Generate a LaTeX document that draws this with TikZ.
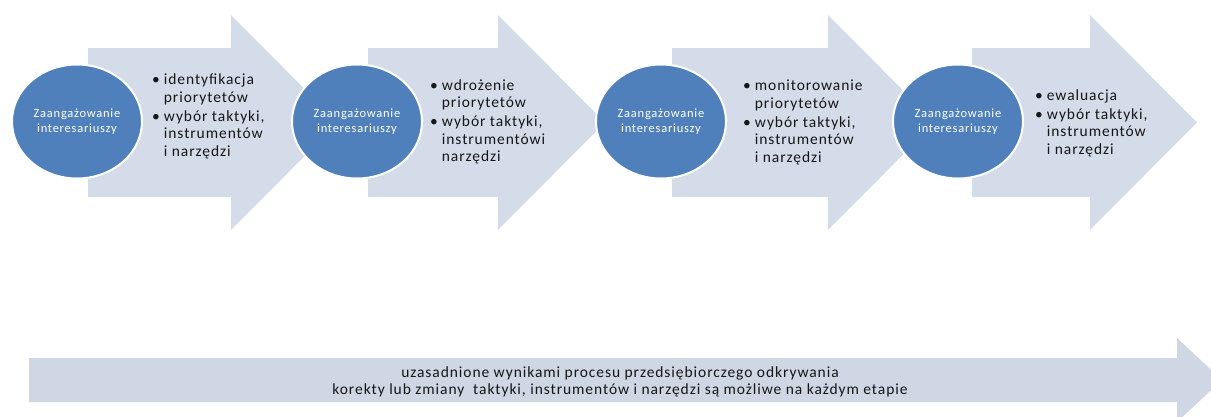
\documentclass[tikz,border=0pt]{standalone}
\usepackage{fontspec}
\usepackage{xcolor}
\usepackage{tikz}
\usetikzlibrary{shapes.geometric}
\newfontfamily\kalibri[LetterSpace=6]{Carlito}
\definecolor{inkD}{HTML}{161616}
\definecolor{cStake}{HTML}{4F80BB}
\definecolor{lArrow}{HTML}{D5DCE9}
\definecolor{lBase}{HTML}{CFD6E4}

\tikzset{
  stake/.style={ellipse, fill=cStake, draw=white, line width=2pt,
        minimum width=130pt, minimum height=114pt, inner sep=0pt,
        align=center, text=white,
        font=\kalibri\fontsize{12.5}{15}\selectfont},
  points/.style={anchor=west, inner sep=0pt, text=inkD,
        font=\kalibri\fontsize{15.5}{17.5}\selectfont}
}
\newcommand{\pkt}{\textbullet\hspace{4pt}}

\begin{document}
\begin{tikzpicture}[x=1pt,y=-1pt]
  \clip (0,0) rectangle (1211,416);
  \fill[white] (0,0) rectangle (1211,416);

  % stage arrows
  \foreach \bx/\hx in {88/231, 368/498, 672/828, 972/1090}
    \fill[lArrow] (\bx,48) -- (\hx,48) -- (\hx,15) -- (\hx+107,122.5)
      -- (\hx,230) -- (\hx,197) -- (\bx,197) -- cycle;

  % stakeholder ellipses
  \foreach \cx [count=\i] in {77,357,661,958}
    \node[stake] (c\i) at (\cx,121.5) {Zaangażowanie\\interesariuszy};

  % lists
  \node[points] (p1) at (152,117) {\begin{tabular}{@{}l@{}}
    \pkt identyfikacja\\ \phantom{\pkt}priorytetów\\[1.5pt]
    \pkt wybór taktyki,\\ \phantom{\pkt}instrumentów\\ \phantom{\pkt}i narzędzi\end{tabular}};
  \node[points] (p2) at (430,122.5) {\begin{tabular}{@{}l@{}}
    \pkt wdrożenie\\ \phantom{\pkt}priorytetów\\[1.5pt]
    \pkt wybór taktyki,\\ \phantom{\pkt}instrumentówi\\ \phantom{\pkt}narzędzi\end{tabular}};
  \node[points] (p3) at (743,123) {\begin{tabular}{@{}l@{}}
    \pkt monitorowanie\\ \phantom{\pkt}priorytetów\\[1.5pt]
    \pkt wybór taktyki,\\ \phantom{\pkt}instrumentów\\ \phantom{\pkt}i narzędzi\end{tabular}};
  \node[points] (p4) at (1035,123.5) {\begin{tabular}{@{}l@{}}
    \pkt ewaluacja\\[1.5pt]
    \pkt wybór taktyki,\\ \phantom{\pkt}instrumentów\\ \phantom{\pkt}i narzędzi\end{tabular}};

  % long base arrow
  \fill[lBase] (29,358) -- (1177,358) -- (1177,338) -- (1222,380)
    -- (1177,422) -- (1177,402) -- (29,402) -- cycle;
  \node[align=center, inner sep=0pt, text=inkD,
        font=\kalibri\fontsize{15.5}{17.5}\selectfont] (note) at (620,382)
    {uzasadnione wynikami procesu przedsiębiorczego odkrywania\\
     korekty lub zmiany\ \ taktyki, instrumentów i narzędzi są możliwe na każdym etapie};
\end{tikzpicture}
\end{document}
